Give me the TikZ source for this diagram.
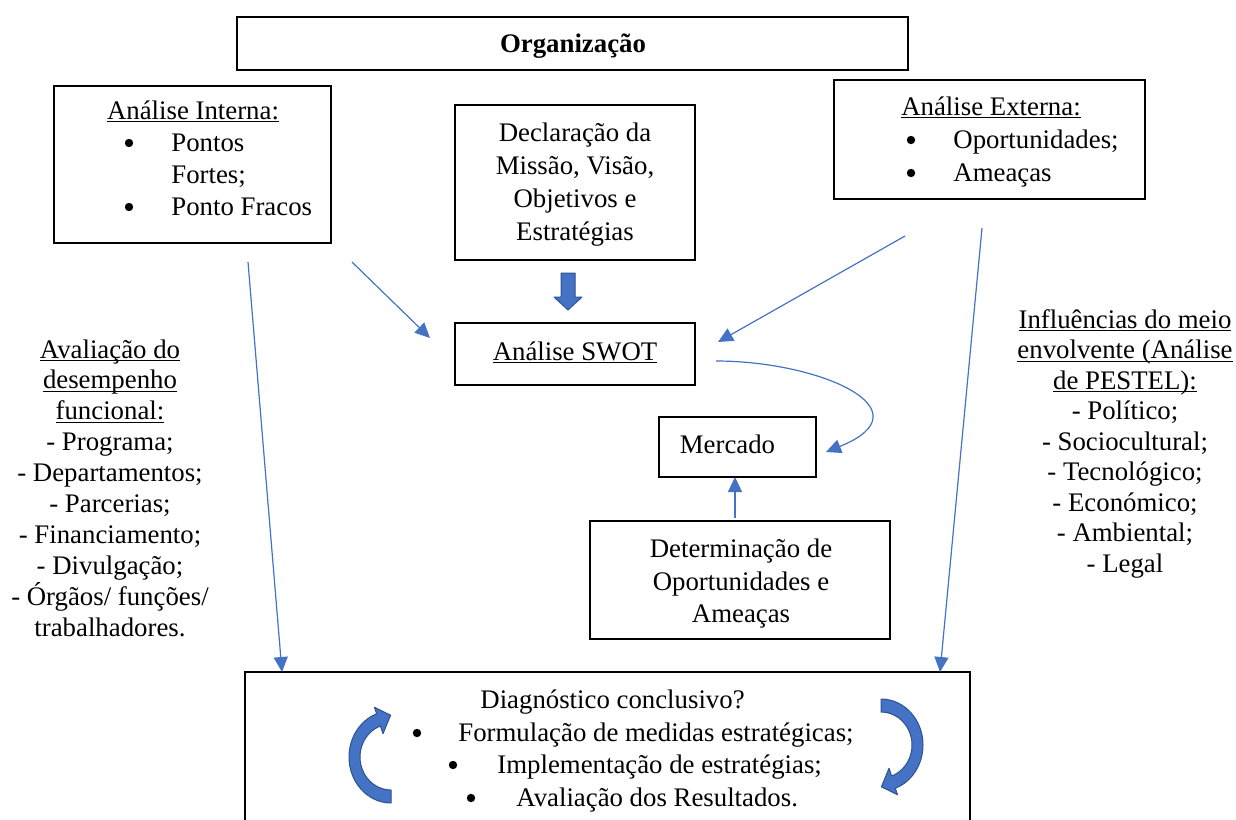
\documentclass[tikz,border=0pt]{standalone}
\usepackage{fontspec}
\setmainfont{Liberation Serif}
\usetikzlibrary{arrows.meta}
\definecolor{linkblue}{HTML}{4472C4}
\definecolor{arrowedge}{HTML}{2F528F}
% underline at a fixed depth, independent of descenders
\newcommand{\ulx}[1]{\setbox0\hbox{#1}\rlap{\rule[-1.6pt]{\wd0}{0.6pt}}\box0}
\begin{document}
\begin{tikzpicture}[x=0.5pt,y=-0.5pt,
  box/.style={draw=black, line width=1pt, inner sep=0pt, rectangle},
  txt/.style={anchor=base, inner sep=0pt, font=\fontsize{13.4}{16}\selectfont},
  txtl/.style={txt, anchor=base west},
  dot/.style={circle, fill=black, inner sep=0pt, minimum size=4.2pt},
  link/.style={draw=linkblue, line width=0.6pt, -{Triangle[length=7.5pt,width=7pt]}},
  blockarrow/.style={fill=linkblue, draw=arrowedge, line width=0.5pt, line join=round}]
\useasboundingbox (0,0) rectangle (1236,819);
\clip (0,0) rectangle (1236,819);

% boxes
\node[box, minimum width=335.5pt, minimum height=26.5pt] (org) at (572.5,43.5) {};
\node[box, minimum width=138.5pt, minimum height=78.5pt] (intern) at (192.5,164.5) {};
\node[box, minimum width=120pt, minimum height=77.5pt] (decl) at (575,182.5) {};
\node[box, minimum width=155.5pt, minimum height=59.5pt] (extern) at (989.5,139.5) {};
\node[box, minimum width=120pt, minimum height=31pt] (swot) at (575,354) {};
\node[box, minimum width=78.5pt, minimum height=30pt] (merc) at (737.5,447) {};
\node[box, minimum width=150pt, minimum height=59pt] (deter) at (740,580) {};
\node[box, minimum width=362.5pt, minimum height=84pt] (diag) at (607.5,756) {};

% box texts
\node[txt, font=\fontsize{13.4}{16}\selectfont\bfseries] (orgT) at (573,52) {Organização};

\node[txt] (inT) at (193,119) {\ulx{Análise Interna:}};
\node[dot] (inB1) at (129,143) {};
\node[txtl] (inL1) at (171,151) {Pontos};
\node[txtl] (inL2) at (171,183) {Fortes;};
\node[dot] (inB2) at (129,207) {};
\node[txtl] (inL3) at (171,215) {Ponto Fracos};

\node[txt] (dc1) at (575,141) {Declaração da};
\node[txt] (dc2) at (575,174) {Missão, Visão,};
\node[txt] (dc3) at (575,207) {Objetivos e};
\node[txt] (dc4) at (575,240) {Estratégias};

\node[txt] (exT) at (991,115) {\ulx{Análise Externa:}};
\node[dot] (exB1) at (911,140) {};
\node[txtl] (exL1) at (953,148) {Oportunidades;};
\node[dot] (exB2) at (911,173) {};
\node[txtl] (exL2) at (953,181) {Ameaças};

\node[txt] (swotT) at (575,360) {\ulx{Análise SWOT}};
\node[txt] (mercT) at (727.5,453) {Mercado};

\node[txt] (dt1) at (741,557) {Determinação de};
\node[txt] (dt2) at (741,590) {Oportunidades e};
\node[txt] (dt3) at (741,622) {Ameaças};

\node[txtl] (dgT) at (480,708) {Diagnóstico conclusivo?};
\node[dot] (dgB1) at (417,733) {};
\node[txtl] (dgL1) at (458,741) {Formulação de medidas estratégicas;};
\node[dot] (dgB2) at (453,765) {};
\node[txtl] (dgL2) at (497,773) {Implementação de estratégias;};
\node[dot] (dgB3) at (471,798) {};
\node[txtl] (dgL3) at (516,806) {Avaliação dos Resultados.};

% side texts
\foreach \s [count=\i] in {{\ulx{Avaliação do}},{\ulx{desempenho}},{\ulx{funcional:}},
  {- Programa;},{- Departamentos;},{- Parcerias;},{- Financiamento;},{- Divulgação;},
  {- Órgãos/ funções/},{trabalhadores.}}
  \node[txt] (left\i) at (110,{358+30.9*(\i-1)}) {\s};

\foreach \s [count=\i] in {{\ulx{Influências do meio}},{\ulx{envolvente (Análise}},{\ulx{de PESTEL):}},
  {- Político;},{- Sociocultural;},{- Tecnológico;},{- Económico;},{- Ambiental;},{- Legal}}
  \node[txt] (right\i) at (1125,{328+30.5*(\i-1)}) {\s};

% connector ends
\coordinate (a1s) at (248,262);  \coordinate (a1e) at (282,672);
\coordinate (a2s) at (352,262);  \coordinate (a2e) at (430,338);
\coordinate (a3s) at (905,236);  \coordinate (a3e) at (718,342);
\coordinate (a4s) at (982,228);  \coordinate (a4e) at (940,672);
\coordinate (a5s) at (716,361);  \coordinate (a5e) at (826,452);
\coordinate (a6s) at (735,518);  \coordinate (a6e) at (735,477);

\draw[link] (a1s) -- (a1e);
\draw[link] (a2s) -- (a2e);
\draw[link] (a3s) -- (a3e);
\draw[link] (a4s) -- (a4e);
\draw[link] (a5s) .. controls (820,361) and (930,410) .. (a5e);
\draw[link] (a6s) -- (a6e);

% block arrow from the mission box to the SWOT box
\path[blockarrow] (561,273) -- (575,273) -- (575,297) -- (582,297) -- (568,310)
  -- (554,297) -- (561,297) -- cycle;

% curved cycle arrows inside the diagnosis box
\begin{scope}[shift={(881,745)}]
  \path[blockarrow] (0,-46) arc[start angle=270,end angle=430,x radius=42,y radius=46]
    -- (16.5,49.7) -- (0.4,41.8) -- (8,23.3) -- (10.6,31)
    arc[start angle=70,end angle=-90,x radius=31,y radius=33] -- cycle;
\end{scope}
\begin{scope}[shift={(391,757)},rotate=180]
  \path[blockarrow] (0,-46) arc[start angle=270,end angle=430,x radius=42,y radius=46]
    -- (16.5,49.7) -- (0.4,41.8) -- (8,23.3) -- (10.6,31)
    arc[start angle=70,end angle=-90,x radius=31,y radius=33] -- cycle;
\end{scope}
\end{tikzpicture}
\end{document}
